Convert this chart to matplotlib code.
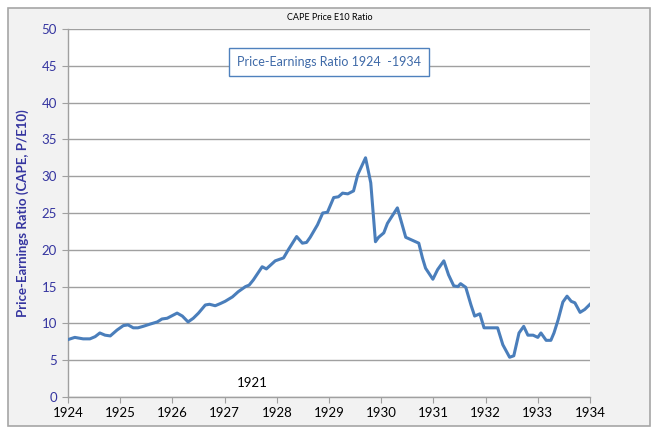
import matplotlib.pyplot as plt
from matplotlib.patches import Rectangle

plt.rcParams['font.family'] = ['Lato', 'DejaVu Sans']

# CAPE ratio (decimal years)
years = [1924.00, 1924.13, 1924.29, 1924.42, 1924.52, 1924.61, 1924.71, 1924.81,
         1924.94, 1925.06, 1925.15, 1925.25, 1925.34, 1925.44, 1925.57, 1925.71,
         1925.80, 1925.90, 1926.09, 1926.19, 1926.30, 1926.40, 1926.50, 1926.63,
         1926.71, 1926.82, 1926.92, 1927.01, 1927.15, 1927.26, 1927.40, 1927.47,
         1927.55, 1927.72, 1927.80, 1927.97, 1928.13, 1928.22, 1928.38, 1928.49,
         1928.57, 1928.64, 1928.78, 1928.88, 1928.97, 1929.09, 1929.18, 1929.26,
         1929.36, 1929.47, 1929.55, 1929.70, 1929.80, 1929.89, 1929.95, 1930.05,
         1930.12, 1930.31, 1930.47, 1930.72, 1930.79, 1930.85, 1930.99, 1931.08,
         1931.20, 1931.29, 1931.39, 1931.47, 1931.52, 1931.62, 1931.72, 1931.79,
         1931.89, 1931.97, 1932.23, 1932.33, 1932.46, 1932.54, 1932.64, 1932.73,
         1932.81, 1932.91, 1933.00, 1933.06, 1933.16, 1933.25, 1933.31, 1933.39,
         1933.48, 1933.56, 1933.64, 1933.71, 1933.81, 1933.90, 1934.00]
cape = [7.8, 8.1, 7.9, 7.9, 8.2, 8.7, 8.4, 8.3,
        9.1, 9.7, 9.8, 9.4, 9.4, 9.6, 9.9, 10.2,
        10.6, 10.7, 11.4, 11.0, 10.2, 10.7, 11.4, 12.5,
        12.6, 12.4, 12.7, 13.0, 13.6, 14.3, 15.0, 15.2,
        15.9, 17.7, 17.4, 18.5, 18.9, 20.0, 21.8, 20.9,
        21.0, 21.7, 23.4, 25.0, 25.1, 27.1, 27.2, 27.7,
        27.6, 28.0, 30.2, 32.5, 29.1, 21.1, 21.7, 22.3,
        23.6, 25.7, 21.7, 20.9, 18.9, 17.5, 16.0, 17.3,
        18.5, 16.6, 15.1, 15.0, 15.4, 14.9, 12.5, 11.0,
        11.3, 9.4, 9.4, 7.1, 5.4, 5.6, 8.7, 9.6,
        8.4, 8.4, 8.1, 8.7, 7.7, 7.7, 8.7, 10.5,
        12.9, 13.7, 13.0, 12.8, 11.5, 11.9, 12.6]

x_ticks = list(range(1924, 1935))
y_ticks = list(range(0, 51, 5))

fig = plt.figure(figsize=(6.6, 4.32), dpi=100)
fig.patch.set_facecolor('white')
# chart frame, kept behind the axes
fig.patches.append(Rectangle((8 / 660, 1 - 426 / 432), 642 / 660, 418 / 432,
                             transform=fig.transFigure, facecolor='#f2f2f2',
                             edgecolor='#a6a6a6', lw=1.2, zorder=-10))

ax = fig.add_axes([68 / 660, 1 - 397 / 432, 522 / 660, 368 / 432])
ax.set_facecolor('white')
ax.plot(years, cape, color='#4a7ebb', lw=2.2, solid_joinstyle='round', zorder=3)

ax.set_xlim(1924, 1934)
ax.set_ylim(0, 50)
ax.set_xticks(x_ticks)
ax.set_yticks(y_ticks)
ax.grid(axis='y', color='#a0a0a0', lw=1.0)
ax.set_axisbelow(True)
for s in ['top', 'right']:
    ax.spines[s].set_visible(False)
for s in ['left', 'bottom']:
    ax.spines[s].set_color('#a0a0a0')
    ax.spines[s].set_linewidth(1.0)
ax.tick_params(axis='x', length=4, color='#a0a0a0', labelsize=9.5, labelcolor='black', pad=3)
ax.tick_params(axis='y', length=4, color='#a0a0a0', labelsize=9.5, labelcolor='#3535a0', pad=4)

ax.set_ylabel('Price-Earnings Ratio (CAPE, P/E10)', color='#3535a0',
              fontsize=9.5, fontweight='bold', labelpad=9)

fig.text(330 / 660, 1 - 18 / 432, 'CAPE Price E10 Ratio', ha='center', va='center',
         fontsize=6.5)
ax.text(1929.0, 45.5, 'Price-Earnings Ratio 1924  -1934', ha='center', va='center',
        fontsize=9, color='#3f6aa8',
        bbox=dict(boxstyle='square,pad=0.65', facecolor='white', edgecolor='#4f81bd', lw=1.0))
ax.text(1927.53, 1.9, '1921', ha='center', va='center', fontsize=9.5, color='black')

fig.savefig('out.png', dpi=100)
